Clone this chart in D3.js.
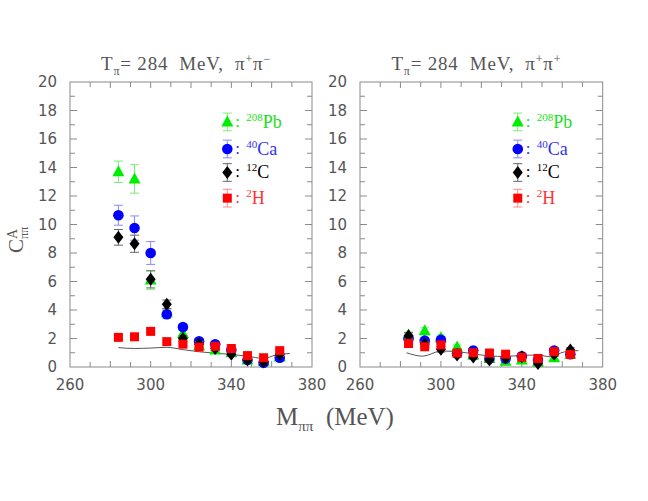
<!DOCTYPE html>
<html><head><meta charset="utf-8">
<script src="https://cdn.jsdelivr.net/npm/d3@7"></script>
<style>body{margin:0;background:#fff}svg{display:block}</style>
</head><body>
<svg id="c" width="648" height="501"></svg>
<script>
const massBins = [284, 292, 300, 308, 316, 324, 332, 340, 348, 356, 364];
const xTicks = [260, 300, 340, 380];
const yTicks = [0, 2, 4, 6, 8, 10, 12, 14, 16, 18, 20];

// pi+ pi- panel
const pmPb = [13.7, 13.2, 6.1, 3.8, 2.35, 1.5, 1.2, 1.0, 0.5, 0.4, 0.7];
const pmPbErr = [0.75, 1.0, 0.65, 0.3, 0.25, 0.2, 0.2, 0.15, 0.15, 0.15, 0.15];
const pmCa = [10.65, 9.75, 8.0, 3.7, 2.8, 1.8, 1.6, 1.2, 0.5, 0.3, 0.65];
const pmCaErr = [0.7, 0.85, 0.8, 0.3, 0.2, 0.2, 0.2, 0.15, 0.15, 0.1, 0.15];
const pmC = [9.1, 8.65, 6.15, 4.4, 2.0, 1.6, 1.3, 0.9, 0.5, 0.35, 0.9];
const pmCErr = [0.55, 0.6, 0.6, 0.3, 0.2, 0.2, 0.15, 0.15, 0.1, 0.1, 0.15];
const pmH = [2.08, 2.12, 2.5, 1.78, 1.6, 1.4, 1.45, 1.3, 0.8, 0.65, 1.15];
const pmHErr = [0.12, 0.12, 0.12, 0.1, 0.1, 0.1, 0.1, 0.1, 0.1, 0.1, 0.1];
const pmTheoryM = [284, 292, 300, 308, 316, 324, 332, 340, 348, 356, 362, 369];
const pmTheory = [1.36, 1.3, 1.33, 1.38, 1.22, 1.07, 0.97, 0.88, 0.76, 0.6, 0.84, 0.95];

// pi+ pi+ panel
const ppPb = [2.25, 2.55, 2.05, 1.4, 0.85, 0.6, 0.4, 0.5, 0.35, 0.65, 0.9];
const ppPbErr = [0.2, 0.2, 0.2, 0.15, 0.15, 0.15, 0.15, 0.15, 0.15, 0.15, 0.15];
const ppCa = [2.0, 1.85, 1.9, 0.95, 1.15, 0.6, 0.6, 0.75, 0.5, 1.15, 0.9];
const ppCaErr = [0.2, 0.2, 0.2, 0.15, 0.15, 0.15, 0.15, 0.15, 0.15, 0.15, 0.15];
const ppC = [2.2, 1.6, 1.25, 0.85, 0.7, 0.5, 0.65, 0.72, 0.25, 0.9, 1.2];
const ppCErr = [0.2, 0.2, 0.2, 0.15, 0.15, 0.15, 0.15, 0.15, 0.15, 0.15, 0.15];
const ppH = [1.65, 1.42, 1.55, 0.98, 1.0, 0.98, 0.9, 0.68, 0.6, 1.08, 0.88];
const ppHErr = [0.12, 0.12, 0.12, 0.1, 0.1, 0.1, 0.1, 0.1, 0.1, 0.1, 0.1];
const ppTheoryM = [283, 291, 300, 308, 316, 324, 332, 340, 348, 354, 361, 368];
const ppTheory = [1.0, 0.76, 1.12, 1.08, 0.92, 0.78, 0.74, 0.82, 0.84, 0.72, 1.06, 1.15];

const nuclei = [
  {key: "Pb", mass: "208", sym: "Pb", shape: "tri", fill: "#00ee00", err: "#77ee77", text: "#22dd22"},
  {key: "Ca", mass: "40", sym: "Ca", shape: "circle", fill: "#0000ff", err: "#8888ff", text: "#3333ee"},
  {key: "C", mass: "12", sym: "C", shape: "diamond", fill: "#000000", err: "#666666", text: "#000000"},
  {key: "H", mass: "2", sym: "H", shape: "square", fill: "#ff0000", err: "#ff8888", text: "#ff3333"}
];
const legendY = [17.2, 15.3, 13.65, 11.85];
const legendErr = 0.62;
const legendM = 338;

const svg = d3.select("#c");
const plotTop = 82, plotBottom = 367;
const y = d3.scaleLinear().domain([0, 20]).range([plotBottom, plotTop]);
const frameCol = "#8a8a8a", textCol = "#555";

function shapePath(shape) {
  if (shape === "tri") return "M0,-6.5L6,4.5L-6,4.5Z";
  if (shape === "diamond") return "M0,-6.5L5,0L0,6.5L-5,0Z";
  if (shape === "square") return "M-4.5,-4.5H4.5V4.5H-4.5Z";
  return d3.symbol(d3.symbolCircle, Math.PI * 5.3 * 5.3)();
}

function drawMark(g, cx, cy, lo, hi, nuc) {
  g.append("line").attr("x1", cx).attr("x2", cx).attr("y1", lo).attr("y2", hi)
    .attr("stroke", nuc.err).attr("stroke-width", 1);
  [lo, hi].forEach(v => g.append("line").attr("x1", cx - 4.5).attr("x2", cx + 4.5)
    .attr("y1", v).attr("y2", v).attr("stroke", nuc.err).attr("stroke-width", 1));
  g.append("path").attr("d", shapePath(nuc.shape))
    .attr("transform", `translate(${cx},${cy})`).attr("fill", nuc.fill);
}

function panel(x0, x1, title2, series, theoryM, theory) {
  const x = d3.scaleLinear().domain([260, 380]).range([x0, x1]);
  const g = svg.append("g");
  for (let v = 270; v < 380; v += 10) {
    const len = v % 20 === 0 ? 6 : 5;
    g.append("line").attr("x1", x(v)).attr("x2", x(v)).attr("y1", plotBottom).attr("y2", plotBottom - len).attr("stroke", frameCol);
    g.append("line").attr("x1", x(v)).attr("x2", x(v)).attr("y1", plotTop).attr("y2", plotTop + len).attr("stroke", frameCol);
  }
  for (let v = 1; v < 20; v += 1) {
    const len = v % 2 === 0 ? 7 : 5;
    g.append("line").attr("x1", x0).attr("x2", x0 + len).attr("y1", y(v)).attr("y2", y(v)).attr("stroke", frameCol);
    g.append("line").attr("x1", x1).attr("x2", x1 - len).attr("y1", y(v)).attr("y2", y(v)).attr("stroke", frameCol);
  }
  g.append("rect").attr("x", x0).attr("y", plotTop).attr("width", x1 - x0).attr("height", plotBottom - plotTop)
    .attr("fill", "none").attr("stroke", frameCol).attr("stroke-width", 1);
  yTicks.forEach(v => g.append("text").attr("x", x0 - 13).attr("y", y(v)).attr("dy", "0.36em")
    .attr("text-anchor", "end").attr("font-family", "DejaVu Sans").attr("font-size", 15)
    .attr("fill", textCol).text(v));
  xTicks.forEach(v => g.append("text").attr("x", x(v)).attr("y", 390)
    .attr("text-anchor", "middle").attr("font-family", "DejaVu Sans").attr("font-size", 15)
    .attr("fill", textCol).text(v));
  const t = g.append("text").attr("x", (x0 + x1) / 2 - 5).attr("y", 70).attr("text-anchor", "middle")
    .attr("font-family", "Liberation Serif").attr("font-size", 19).attr("letter-spacing", 0.8)
    .attr("fill", textCol).attr("xml:space", "preserve");
  t.append("tspan").text("T");
  t.append("tspan").attr("font-size", 12).attr("dy", 5).text("π");
  t.append("tspan").attr("dy", -5).text("= 284  MeV,  π");
  t.append("tspan").attr("font-size", 12).attr("dy", -7).text("+");
  t.append("tspan").attr("dy", 7).text("π");
  t.append("tspan").attr("font-size", 12).attr("dy", -7).text(title2);
  const line = d3.line().x((d, i) => x(theoryM[i])).y(d => y(d)).curve(d3.curveMonotoneX);
  g.append("path").datum(theory).attr("d", line).attr("fill", "none").attr("stroke", "#555").attr("stroke-width", 1);
  series.forEach((s, k) => {
    const nuc = nuclei[k];
    const sg = g.append("g");
    s.vals.forEach((v, i) => drawMark(sg, x(massBins[i]), y(v), y(v - s.err[i]), y(v + s.err[i]), nuc));
  });
  nuclei.forEach((nuc, k) => {
    const lx = x(legendM), ly = y(legendY[k]);
    drawMark(g, lx, ly, y(legendY[k] - legendErr), y(legendY[k] + legendErr), nuc);
    g.append("text").attr("x", lx + 8).attr("y", ly + 5).attr("font-family", "Liberation Serif")
      .attr("font-size", 17).attr("fill", nuc.text).text(":");
    const tx = g.append("text").attr("x", lx + 19).attr("y", ly + 6).attr("font-family", "Liberation Serif")
      .attr("font-size", 18).attr("fill", nuc.text);
    tx.append("tspan").attr("font-size", 11).attr("dy", -7).text(nuc.mass);
    tx.append("tspan").attr("dy", 7).text(nuc.sym);
  });
}

panel(70, 312, "−", [
  {vals: pmPb, err: pmPbErr}, {vals: pmCa, err: pmCaErr}, {vals: pmC, err: pmCErr}, {vals: pmH, err: pmHErr}
], pmTheoryM, pmTheory);
panel(360, 602.7, "+", [
  {vals: ppPb, err: ppPbErr}, {vals: ppCa, err: ppCaErr}, {vals: ppC, err: ppCErr}, {vals: ppH, err: ppHErr}
], ppTheoryM, ppTheory);

const yl = svg.append("text").attr("transform", "translate(23,253) rotate(-90)")
  .attr("font-family", "Liberation Serif").attr("font-size", 21).attr("fill", textCol);
yl.append("tspan").text("C");
yl.append("tspan").attr("font-size", 14).attr("dy", -6).text("A");
yl.append("tspan").attr("font-size", 12).attr("dx", -10).attr("dy", 11).text("ππ");

const xl = svg.append("text").attr("x", 276).attr("y", 425).attr("xml:space", "preserve")
  .attr("font-family", "Liberation Serif").attr("font-size", 25).attr("fill", textCol);
xl.append("tspan").text("M");
xl.append("tspan").attr("font-size", 15).attr("dy", 6).text("ππ");
xl.append("tspan").attr("dy", -6).text("  (MeV)");
</script>
</body></html>
